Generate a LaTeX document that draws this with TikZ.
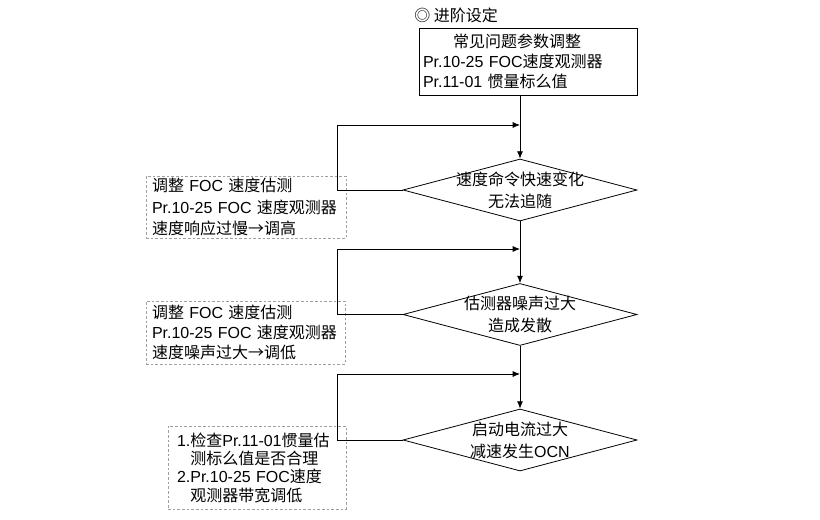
\documentclass[tikz,border=0pt]{standalone}
\usepackage{fontspec}
\setmainfont{Liberation Sans}
\newfontfamily\cjk{Noto Sans CJK SC}
\usetikzlibrary{arrows.meta, positioning, shapes.geometric}
\newcommand{\zh}[1]{{\cjk #1}}

\begin{document}
\begin{tikzpicture}[x=0.75pt,y=0.75pt,yscale=-1,xscale=1,
  every node/.style={font=\fontsize{12}{15}\selectfont},
  arr/.style={-{Latex[length=5.5pt,width=4.5pt]}, line width=0.6pt},
  dia/.style={draw, diamond, inner sep=0pt, line width=0.6pt, minimum width=234*0.75pt, minimum height=62*0.75pt},
  tipbox/.style={draw=gray!75, dash pattern=on 2pt off 1.5pt, line width=0.5pt, align=left, inner ysep=0pt}]
\path[use as bounding box] (0,0) rectangle (820,520);

% Title
\node[anchor=west, inner sep=0pt] (title) at (414,15) {\zh{◎ 进阶设定}};

% Top box
\node[draw, line width=0.6pt, align=left, inner xsep=3pt, text width=210*0.75pt, minimum height=67*0.75pt] (top) at (528,61.5)
  {\hspace*{22.5pt}\zh{常见问题参数调整}\\Pr.10-25 FOC\zh{速度观测器}\\Pr.11-01 \zh{惯量标么值}};

% Decision diamonds
\node[dia] (d1) at (520,190) {};
\node[align=center, font=\fontsize{12}{16.5}\selectfont] (t1) at (d1) {\zh{速度命令快速变化}\\\zh{无法追随}};
\node[dia] (d2) at (520,314.5) {};
\node[align=center, font=\fontsize{12}{16.5}\selectfont] (t2) at (d2) {\zh{估测器噪声过大}\\\zh{造成发散}};
\node[dia] (d3) at (520,440) {};
\node[align=center, font=\fontsize{12}{16.5}\selectfont] (t3) at (d3) {\zh{启动电流过大}\\\zh{减速发生}OCN};

% Dashed notes
\node[tipbox, inner xsep=4.5pt, text width=188*0.75pt, minimum height=62*0.75pt, font=\fontsize{12}{16}\selectfont] (n1) at (246,207)
  {\zh{调整} FOC \zh{速度估测}\\Pr.10-25 FOC \zh{速度观测器}\\\zh{速度响应过慢→调高}};
\node[tipbox, inner xsep=4.5pt, text width=187*0.75pt, minimum height=63*0.75pt, font=\fontsize{12}{15}\selectfont] (n2) at (245.5,332.5)
  {\zh{调整} FOC \zh{速度估测}\\Pr.10-25 FOC \zh{速度观测器}\\\zh{速度噪声过大→调低}};
\node[tipbox, inner xsep=6.75pt, text width=160*0.75pt, minimum height=83*0.75pt, font=\fontsize{12}{13.75}\selectfont] (n3) at (257,467.5)
  {1.\zh{检查}Pr.11-01\zh{惯量估}\\\phantom{1.}\zh{测标么值是否合理}\\2.Pr.10-25 FOC\zh{速度}\\\phantom{2.}\zh{观测器带宽调低}};

% Junctions on the main line
\coordinate (j1) at (520,125);
\coordinate (j2) at (520,249);
\coordinate (j3) at (520,374);

% Main flow
\draw[arr] (d1.north |- top.south) -- (d1.north);
\draw[arr] (d1.south) -- (d2.north);
\draw[arr] (d2.south) -- (d3.north);

% Feedback loops
\draw[arr] (d1.west) -- ++(-65,0) |- (j1);
\draw[arr] (d2.west) -- ++(-65,0) |- (j2);
\draw[arr] (d3.west) -- ++(-65,0) |- (j3);

\end{tikzpicture}
\end{document}
